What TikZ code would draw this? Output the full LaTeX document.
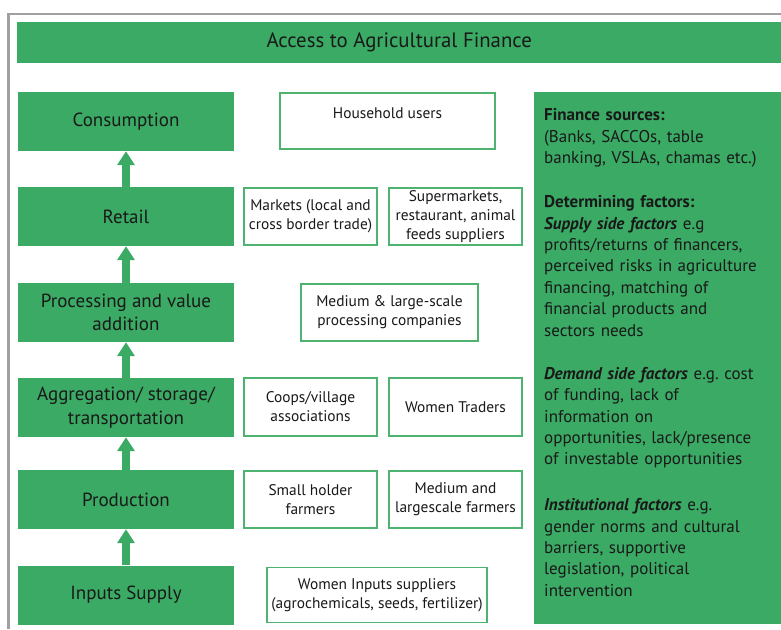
\documentclass[tikz,border=0pt]{standalone}
\usepackage{fontspec}
\setmainfont{PT Sans}
\usetikzlibrary{arrows.meta}
\definecolor{agreen}{RGB}{58,170,100}
\definecolor{bgreen}{RGB}{78,178,112}
\definecolor{txt}{RGB}{25,25,25}
\definecolor{framegray}{RGB}{160,160,160}
\begin{document}
\begin{tikzpicture}[x=1pt,y=-1pt,
  stage/.style={fill=agreen, draw=none, minimum width=216pt, minimum height=59pt, inner sep=0pt,
    font=\fontsize{19}{23.5}\selectfont, text=txt, align=center},
  actor/.style={draw=bgreen, line width=1.8pt, fill=white, inner sep=0pt,
    font=\fontsize{15.4}{18.8}\selectfont, text=txt, align=center},
  upflow/.style={draw=agreen, line width=8pt, -{Triangle[width=17pt,length=14pt]}},
  paneltext/.style={anchor=base west, inner sep=0pt, text width=236pt, align=left,
    font=\fontsize{17}{21.4}\selectfont, text=txt}
]
\useasboundingbox (0,0) rectangle (781,629);
% outer frame (partly cropped)
\draw[framegray, line width=2.5pt] (8.5,629) -- (8.5,14) -- (781,14);
% title bar
\node[fill=agreen, minimum width=764pt, minimum height=41pt, inner sep=0pt, anchor=north west,
  font=\fontsize{20.8}{25}\selectfont, text=txt] (title) at (17,22) {Access to Agricultural Finance};
% value chain stages
\node[stage] (cons) at (126,121.5) {Consumption};
\node[stage] (ret)  at (126,216.5) {Retail};
\node[stage] (proc) at (126,312.5) {Processing and value\\addition};
\node[stage] (aggr) at (126,407.5) {Aggregation/ storage/\\transportation};
\node[stage] (prod) at (126,499.5) {Production};
\node[stage] (inp)  at (126,595)   {Inputs Supply};
% arrows
\draw[upflow] (inp.north)  -- (prod.south);
\draw[upflow] (prod.north) -- (aggr.south);
\draw[upflow] (aggr.north) -- (proc.south);
\draw[upflow] (proc.north) -- (ret.south);
\draw[upflow] (ret.north)  -- (cons.south);
% actors
\node[actor, minimum width=215pt, minimum height=56pt, text depth=15pt] (house) at (387.5,121) {Household users};
\node[actor, minimum width=133pt, minimum height=57pt] (mkt)   at (310.5,216.5) {Markets (local and\\cross border trade)};
\node[actor, minimum width=133pt, minimum height=57pt] (super) at (455.5,216.5) {Supermarkets,\\restaurant, animal\\feeds suppliers};
\node[actor, minimum width=177pt, minimum height=57pt] (mproc) at (389.5,312.5) {Medium \& large-scale\\processing companies};
\node[actor, minimum width=133pt, minimum height=58pt] (coop)  at (310.5,407) {Coops/village\\associations};
\node[actor, minimum width=133pt, minimum height=58pt] (wtrad) at (455.5,407) {Women Traders};
\node[actor, minimum width=133pt, minimum height=57pt] (small) at (310.5,499.5) {Small holder\\farmers};
\node[actor, minimum width=133pt, minimum height=57pt] (large) at (455.5,499.5) {Medium and\\largescale farmers};
\node[actor, minimum width=220pt, minimum height=55pt] (winp)  at (377,595) {Women Inputs suppliers\\(agrochemicals, seeds, fertilizer)};
% right panel
\node[fill=agreen, anchor=north west, minimum width=247pt, minimum height=532pt, inner sep=0pt] (panel) at (534,92) {};
\node[paneltext] (fin) at (544,120.7) {\textbf{Finance sources:}\\(Banks, SACCOs, table\\banking, VSLAs, chamas etc.)};
\node[paneltext] (det) at (544,207.7) {\textbf{Determining factors:}\\\textbf{\textit{Supply side factors}} e.g\\profits/returns of financers,\\perceived risks in agriculture\\financing, matching of\\financial products and\\sectors needs};
\node[paneltext] (dem) at (544,379.3) {\textbf{\textit{Demand side factors}} e.g.\ cost\\of funding, lack of\\information on\\opportunities, lack/presence\\of investable opportunities};
\node[paneltext] (inst) at (544,510.7) {\textbf{\textit{Institutional factors}} e.g.\\gender norms and cultural\\barriers, supportive\\legislation, political\\intervention};
\end{tikzpicture}
\end{document}
